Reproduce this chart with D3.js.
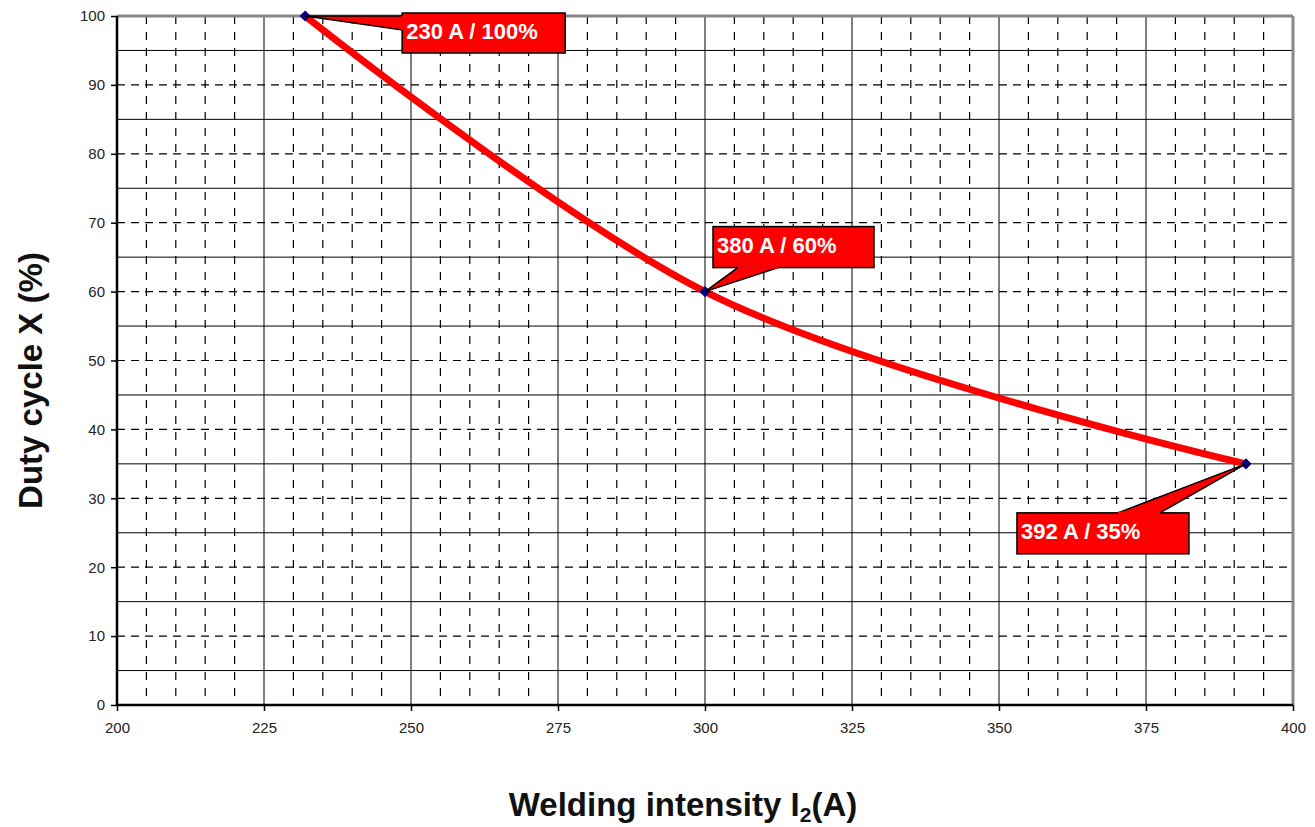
<!DOCTYPE html>
<html>
<head>
<meta charset="utf-8">
<script src="https://cdnjs.cloudflare.com/ajax/libs/d3/7.8.5/d3.min.js"></script>
<style>
  body { margin: 0; background: #fff; }
  text { font-family: "Liberation Sans", Arial, sans-serif; }
</style>
</head>
<body>
<div id="chart"></div>
<script>
// data
var current = [232, 300, 392];
var duty = [100, 60, 35];
var labels = ["230 A / 100%", "380 A / 60%", "392 A / 35%"];
var xTicks = [200, 225, 250, 275, 300, 325, 350, 375, 400];
var yTicks = [0, 10, 20, 30, 40, 50, 60, 70, 80, 90, 100];

var margin = {top: 16, right: 22, bottom: 122, left: 117},
    width = 1315 - margin.left - margin.right,
    height = 827 - margin.top - margin.bottom;

var svg = d3.select("#chart")
  .append("svg")
    .attr("width", 1315)
    .attr("height", 827)
  .append("g")
    .attr("transform", "translate(" + margin.left + "," + margin.top + ")");

var x = d3.scaleLinear().domain([200, 400]).range([0, width]);
var y = d3.scaleLinear().domain([0, 100]).range([height, 0]);

// minor vertical dashed lines every 5
var xMinor = d3.range(205, 400, 5).filter(d => d % 25 !== 0);
svg.append("g").selectAll("line")
  .data(xMinor).enter().append("line")
    .attr("x1", d => x(d)).attr("x2", d => x(d))
    .attr("y1", 0).attr("y2", height)
    .attr("stroke", "#000").attr("stroke-width", 1.2)
    .attr("stroke-dasharray", "8,8");

// horizontal dashed lines at major y ticks
svg.append("g").selectAll("line")
  .data(yTicks.filter(d => d > 0 && d < 100)).enter().append("line")
    .attr("x1", 0).attr("x2", width)
    .attr("y1", d => y(d)).attr("y2", d => y(d))
    .attr("stroke", "#000").attr("stroke-width", 1.2)
    .attr("stroke-dasharray", "8,6");

// solid lines: vertical at major x ticks, horizontal at the odd fives
svg.append("g").selectAll("line")
  .data(xTicks.filter(d => d > 200 && d < 400)).enter().append("line")
    .attr("x1", d => x(d)).attr("x2", d => x(d))
    .attr("y1", 0).attr("y2", height)
    .attr("stroke", "#000").attr("stroke-width", 1);

svg.append("g").selectAll("line")
  .data(d3.range(5, 100, 10)).enter().append("line")
    .attr("x1", 0).attr("x2", width)
    .attr("y1", d => y(d)).attr("y2", d => y(d))
    .attr("stroke", "#000").attr("stroke-width", 1);

// frame: grey top/right, black left/bottom
svg.append("line").attr("x1", 0).attr("x2", width).attr("y1", 0).attr("y2", 0)
  .attr("stroke", "#888").attr("stroke-width", 3);
svg.append("line").attr("x1", width).attr("x2", width).attr("y1", 0).attr("y2", height)
  .attr("stroke", "#888").attr("stroke-width", 3);

var xAxis = svg.append("g")
  .attr("transform", "translate(0," + height + ")")
  .call(d3.axisBottom(x).tickValues(xTicks).tickSize(6).tickPadding(11));
var yAxis = svg.append("g")
  .call(d3.axisLeft(y).tickValues(yTicks).tickSize(6).tickPadding(6));

[xAxis, yAxis].forEach(function(a) {
  a.select(".domain").attr("stroke", "#000").attr("stroke-width", 2.5);
  a.selectAll(".tick line").attr("stroke", "#000").attr("stroke-width", 1.5);
  a.selectAll(".tick text")
    .attr("fill", "#222")
    .style("font-size", "15px")
    .style("font-family", "'Liberation Sans', Arial, sans-serif");
});
xAxis.select(".domain").attr("d", "M0,0H" + width);
yAxis.select(".domain").attr("d", "M0,0V" + height);

// the curve
var pts = current.map((c, i) => [c, duty[i]]);
var line = d3.line()
  .x(d => x(d[0]))
  .y(d => y(d[1]))
  .curve(d3.curveCatmullRom.alpha(1));

svg.append("path")
  .datum(pts)
  .attr("fill", "none")
  .attr("stroke", "#ff0000")
  .attr("stroke-width", 7)
  .attr("stroke-linecap", "round")
  .attr("d", line);

// diamond markers
svg.append("g").selectAll("path")
  .data(pts).enter().append("path")
    .attr("transform", d => "translate(" + x(d[0]) + "," + y(d[1]) + ")")
    .attr("d", d3.symbol().type(d3.symbolDiamond2).size(80))
    .attr("fill", "#000080");

// callouts: box offsets relative to the point (in px), pointer base on box edge
var callouts = [
  {box: [97, -3, 163, 40], base: [[97, 0], [97, 14]]},
  {box: [8, -65, 161, 41], base: [[33, -24], [73, -24]]},
  {box: [-229, 49, 172, 41], base: [[-128, 49], [-86, 49]]}
];

pts.forEach(function(p, i) {
  var px = x(p[0]), py = y(p[1]);
  var c = callouts[i];
  var g = svg.append("g").attr("transform", "translate(" + px + "," + py + ")");
  var b = c.box;
  g.append("rect")
    .attr("x", b[0]).attr("y", b[1]).attr("width", b[2]).attr("height", b[3])
    .attr("fill", "#ff0000").attr("stroke", "#000").attr("stroke-width", 1.5);
  g.append("path")
    .attr("d", "M0,0L" + c.base[0][0] + "," + c.base[0][1] + "L" + c.base[1][0] + "," + c.base[1][1] + "Z")
    .attr("fill", "#ff0000").attr("stroke", "#000").attr("stroke-width", 1.5);
  // cover the pointer join on the box edge
  g.append("path")
    .attr("d", "M" + c.base[0][0] + "," + c.base[0][1] + "L" + c.base[1][0] + "," + c.base[1][1])
    .attr("stroke", "#ff0000").attr("stroke-width", 2.5);
  g.append("text")
    .attr("x", b[0] + 4).attr("y", b[1] + 26)
    .attr("fill", "#fff")
    .style("font-size", "22px")
    .style("font-weight", "bold")
    .text(labels[i]);
});

// axis titles
svg.append("text")
  .attr("transform", "translate(" + (-75) + "," + (height / 2 + 20) + ") rotate(-90)")
  .attr("text-anchor", "middle")
  .style("font-size", "33px")
  .style("font-weight", "bold")
  .attr("fill", "#111")
  .text("Duty cycle X (%)");

var xt = svg.append("text")
  .attr("x", width / 2 - 22).attr("y", height + 111)
  .attr("text-anchor", "middle")
  .style("font-size", "33px")
  .style("font-weight", "bold")
  .attr("fill", "#111");
xt.append("tspan").text("Welding intensity I");
xt.append("tspan").attr("dy", 6).style("font-size", "21px").text("2");
xt.append("tspan").attr("dy", -6).text("(A)");
</script>
</body>
</html>
